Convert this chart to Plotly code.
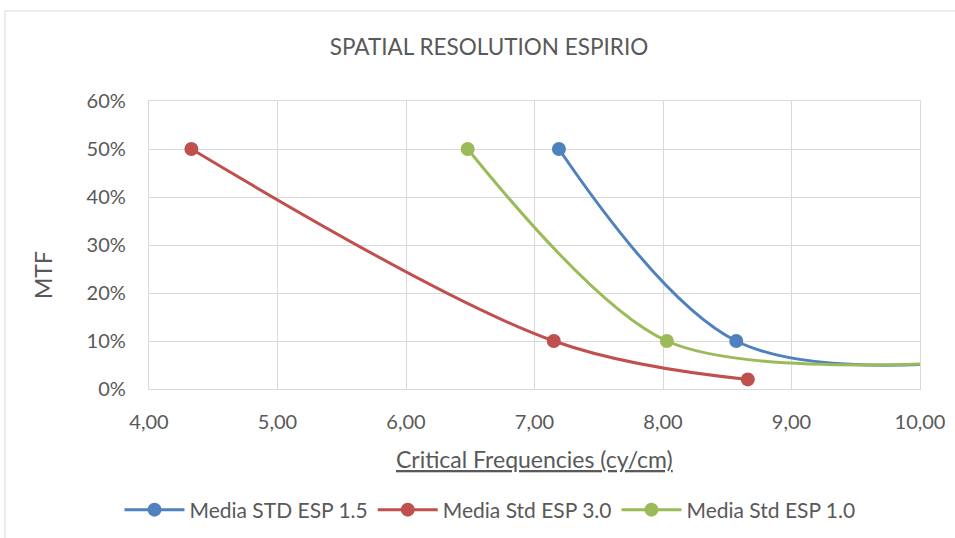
import plotly.graph_objects as go

# Data
blue_x = [7.19, 8.57, 10.3]
blue_y = [0.50, 0.10, 0.055]
red_x = [4.33, 7.15, 8.66]
red_y = [0.50, 0.10, 0.02]
green_x = [6.48, 8.03, 10.3]
green_y = [0.50, 0.10, 0.055]

names = ["Media STD ESP 1.5", "Media Std ESP 3.0", "Media Std ESP 1.0"]
colors = ["#4F81BD", "#C0504D", "#9BBB59"]
smooth = [1.0, 1.0, 0.85]

x_ticks = [4, 5, 6, 7, 8, 9, 10]
y_ticks = [0, 0.1, 0.2, 0.3, 0.4, 0.5, 0.6]

FONT = "Lato, Liberation Sans, sans-serif"
TXT = "#595959"
GRID = "#D9D9D9"

fig = go.Figure()
for xs, ys, nm, c, s in zip([blue_x, red_x, green_x], [blue_y, red_y, green_y], names, colors, smooth):
    fig.add_trace(go.Scatter(
        x=xs, y=ys, name=nm, mode="lines+markers",
        line=dict(color=c, width=3, shape="spline", smoothing=s),
        marker=dict(color=c, size=14),
        cliponaxis=True,
    ))

L, R, T, B = 149, 35, 101, 149
W, H = 955, 538
pw = W - L - R
ph = H - T - B

fig.update_layout(
    width=W, height=H,
    margin=dict(l=L, r=R, t=T, b=B, autoexpand=False),
    paper_bgcolor="white", plot_bgcolor="white",
    separators=",.",
    font=dict(family=FONT, color=TXT, size=18),
    title=dict(text="SPATIAL RESOLUTION ESPIRIO", x=489 / W, xanchor="center",
               y=1 - 47 / H, yanchor="middle", xref="container", yref="container",
               font=dict(size=22.5, color=TXT, family=FONT)),
    xaxis=dict(range=[4, 10], tickvals=x_ticks, tickformat=".2f",
               showgrid=True, gridcolor=GRID, gridwidth=1.3,
               showline=True, linecolor=GRID, linewidth=1.3, mirror=True,
               zeroline=False, ticks="", ticklen=0, ticklabelstandoff=15,
               tickfont=dict(size=20, color=TXT)),
    yaxis=dict(range=[0, 0.6], tickvals=y_ticks, tickformat=".0%",
               showgrid=True, gridcolor=GRID, gridwidth=1.3,
               showline=True, linecolor=GRID, linewidth=1.3, mirror=True,
               zeroline=False, ticks="", ticklen=0, ticklabelstandoff=18,
               tickfont=dict(size=20, color=TXT)),
    showlegend=True,
    legend=dict(orientation="h", x=(490 - L) / pw, xanchor="center",
                y=-(510 - (T + ph)) / ph, yanchor="middle",
                font=dict(size=21, color=TXT), itemwidth=60,
                traceorder="normal"),
)

fig.add_annotation(text="<u>Critical Frequencies (cy/cm)</u>", xref="paper", yref="paper",
                   x=0.5, y=-(459 - (T + ph)) / ph, showarrow=False,
                   xanchor="center", yanchor="middle",
                   font=dict(size=23, color=TXT, family=FONT))
fig.add_annotation(text="MTF", xref="paper", yref="paper",
                   x=(43 - L) / pw, y=(T + ph - 275) / ph, showarrow=False,
                   textangle=-90, xanchor="center", yanchor="middle",
                   font=dict(size=23, color=TXT, family=FONT))

# chart-area border
fig.add_shape(type="rect", xref="paper", yref="paper",
              x0=(5 - L) / pw, x1=(980 - L) / pw,
              y0=(T + ph - 560) / ph, y1=(T + ph - 11) / ph,
              line=dict(color="#D9D9D9", width=1), layer="below")

fig.write_html("out.html")
